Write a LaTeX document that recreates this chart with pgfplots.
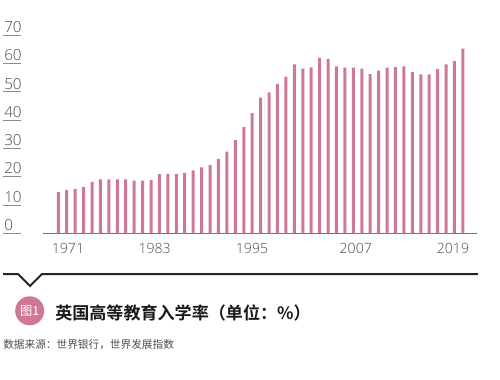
\documentclass[border=0pt]{standalone}
\usepackage{pgfplots}
\pgfplotsset{compat=1.18}
\usepackage{fontspec}
\setmainfont{Liberation Sans}
\newfontfamily\lightnum{Open Sans}[UprightFont={* Light}]
\newfontfamily\cjk{Noto Sans CJK SC}
\newfontfamily\cjkb{Noto Sans CJK SC Bold}
\definecolor{barpink}{HTML}{CE7894}
\definecolor{txtgray}{HTML}{4A4A4A}
\begin{document}
\begin{tikzpicture}[x=0.75pt,y=0.75pt]
\path[use as bounding box] (0,0) rectangle (500,379);
\begin{axis}[
  at={(32.25pt,109.275pt)}, anchor=south west,
  scale only axis, width=325.5pt, height=148.7pt,
  xmin=1969.185, xmax=2020.67, ymin=0, ymax=70,
  axis x line*=bottom, axis y line*=left,
  x axis line style={-, draw=black!55, line width=0.8pt},
  y axis line style={draw=none},
  major tick length=0pt,
  xtick={1972.15,1982.43,1993.98,2006.29,2017.82},
  xticklabels={1971,1983,1995,2007,2019},
  ytick={0,10,...,70},
  xticklabel style={anchor=north, inner sep=0pt, yshift=-7.5pt, font=\lightnum\fontsize{10.6}{13}\selectfont, text=txtgray},
  yticklabel style={anchor=base west, inner sep=0pt, xshift=-29.25pt, yshift=2pt, font=\lightnum\fontsize{11.4}{14}\selectfont, text=txtgray},
  /pgf/number format/assume math mode=true,
  ybar, bar width=2.25pt,
  clip=false,
]
\addplot[fill=barpink, draw=none] coordinates {
(1971,14.5) (1972,15.3) (1973,15.7) (1974,16.4) (1975,18.2) (1976,19.0) (1977,19.0)
(1978,19.0) (1979,19.0) (1980,18.6) (1981,18.6) (1982,18.8) (1983,20.9) (1984,20.9)
(1985,20.9) (1986,21.3) (1987,22.2) (1988,23.3) (1989,24.2) (1990,26.3) (1991,28.8)
(1992,32.9) (1993,37.5) (1994,42.4) (1995,47.9) (1996,49.8) (1997,52.8) (1998,55.3)
(1999,59.6) (2000,58.1) (2001,58.6) (2002,61.9) (2003,61.6) (2004,58.9) (2005,58.5)
(2006,58.5) (2007,58.1) (2008,56.2) (2009,57.4) (2010,58.5) (2011,58.7) (2012,58.9)
(2013,56.9) (2014,56.1) (2015,56.1) (2016,58.0) (2017,59.6) (2018,60.8) (2019,65.2)
};
\end{axis}
% underlines of y labels
\foreach \v in {0,1,...,7} {
  \draw[black!45, line width=0.7pt] (3,145.7+\v*28.33) -- (21,145.7+\v*28.33);
}
% bottom rule with notch
\draw[black!85, line width=1.5pt, line join=miter] (3,105) -- (18,105) -- (30,93) -- (42,105) -- (478,105);
% badge
\fill[barpink] (29.7,68.2) circle (14.5);
\node[text=white, font=\cjk\fontsize{9.2}{11}\selectfont, inner sep=0pt] at (29.7,68.2) {图1};
\node[anchor=west, inner sep=0pt, font=\cjkb\fontsize{12.8}{15}\selectfont, text=black!90] at (55,66.5) {英国高等教育入学率（单位：\%）};
\node[anchor=west, inner sep=0pt, font=\cjk\fontsize{8}{10}\selectfont, text=black!70] at (3,34.7) {数据来源：世界银行，世界发展指数};
\end{tikzpicture}
\end{document}
